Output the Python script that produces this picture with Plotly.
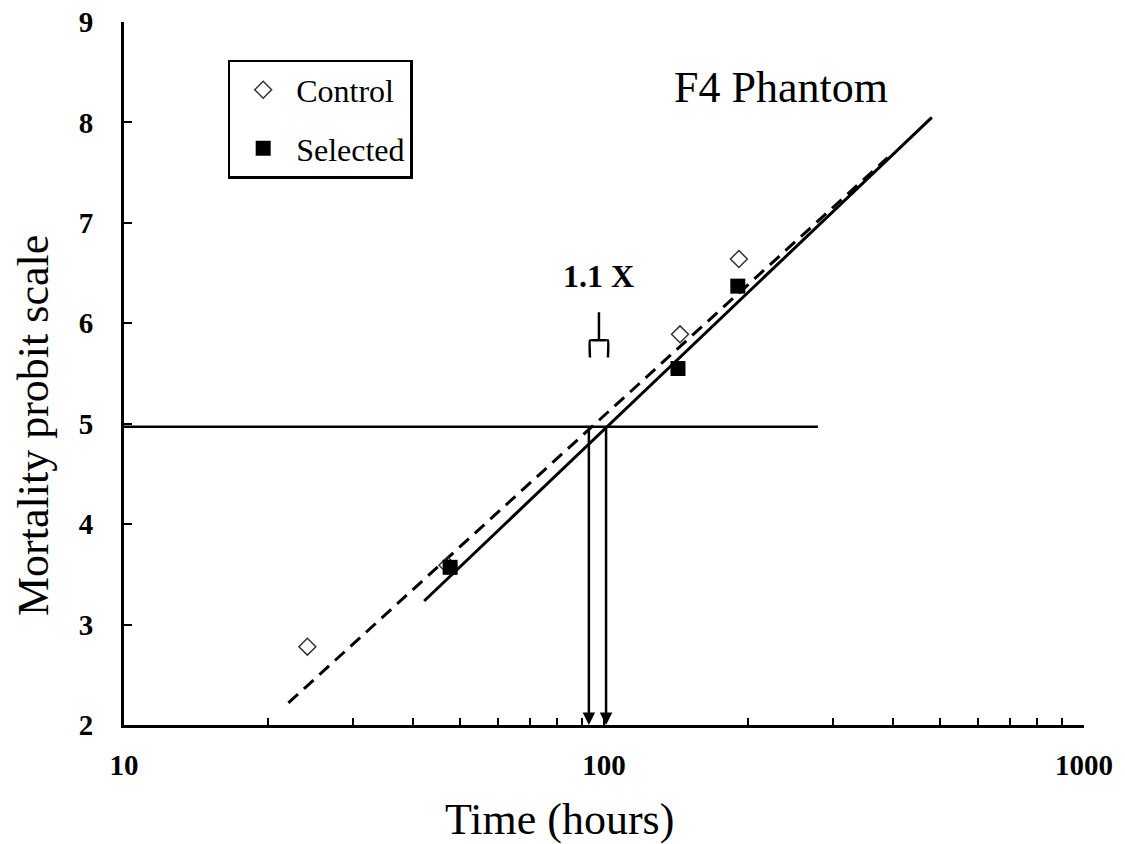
import numpy as np
import plotly.graph_objects as go

# Data
control_t = [24.1, 47.2, 144, 191]
control_p = [2.78, 3.59, 5.89, 6.64]
selected_t = [47.8, 142.6, 190]
selected_p = [3.57, 5.55, 6.37]

control_fit_t = [22.0, 390]
control_fit_p = [2.22, 7.65]
selected_fit_t = [42.2, 482]
selected_fit_p = [3.235, 8.05]

ld50_level = 4.97
ld50_line_t = [10, 279]
ld50_control = 93.0
ld50_selected = 101.0

bracket_t = [93.5, 93.5, 97.6, 101.9, 101.9]
bracket_p = [5.66, 5.83, 5.83, 5.83, 5.66]
stem_t = [97.6, 97.6]
stem_p = [5.83, 6.11]

x_tickvals = [10, 20, 30, 40, 50, 60, 70, 80, 90, 100, 200, 300, 400, 500, 600, 700, 800, 900, 1000]
x_ticktext = ['10', '', '', '', '', '', '', '', '', '100', '', '', '', '', '', '', '', '', '1000']
y_tickvals = [2, 3, 4, 5, 6, 7, 8, 9]

serif = "Liberation Serif"

fig = go.Figure()

fig.add_trace(go.Scatter(x=ld50_line_t, y=[ld50_level, ld50_level], mode='lines',
                         line=dict(color='black', width=2.5), showlegend=False, hoverinfo='skip'))
fig.add_trace(go.Scatter(x=control_fit_t, y=control_fit_p, mode='lines',
                         line=dict(color='black', width=3, dash='13px,8px'), showlegend=False))
fig.add_trace(go.Scatter(x=selected_fit_t, y=selected_fit_p, mode='lines',
                         line=dict(color='black', width=3), showlegend=False))
fig.add_trace(go.Scatter(x=bracket_t, y=bracket_p, mode='lines',
                         line=dict(color='black', width=2.5, shape='spline', smoothing=0.3), showlegend=False))
fig.add_trace(go.Scatter(x=stem_t, y=stem_p, mode='lines',
                         line=dict(color='black', width=2.5), showlegend=False))

fig.add_trace(go.Scatter(x=control_t, y=control_p, mode='markers', name='Control',
                         legendgroup='c',
                         marker=dict(symbol='diamond-open', size=13, color='#333333',
                                     line=dict(width=1.5, color='#333333'))))
fig.add_trace(go.Scatter(x=selected_t, y=selected_p, mode='markers', name='Selected',
                         legendgroup='s',
                         marker=dict(symbol='square', size=15, color='black')))

for t in [ld50_control, ld50_selected]:
    fig.add_annotation(x=np.log10(t), y=2.0, ax=np.log10(t), ay=ld50_level,
                       xref='x', yref='y', axref='x', ayref='y',
                       showarrow=True, arrowhead=2, arrowsize=1, arrowwidth=2.5,
                       arrowcolor='black', text='')

fig.add_annotation(x=np.log10(97.6), y=6.47, xref='x', yref='y', text='<b>1.1 X</b>',
                   showarrow=False, font=dict(family=serif, size=32, color='black'))
fig.add_annotation(x=np.log10(234), y=8.35, xref='x', yref='y', text='F4 Phantom',
                   showarrow=False, font=dict(family=serif, size=44, color='black'),
                   xanchor='center')

# axis titles (placed as in the original, off-centre)
fig.add_annotation(x=0.454, y=-0.135, xref='paper', yref='paper', text='Time (hours)',
                   showarrow=False, xanchor='center', yanchor='middle',
                   font=dict(family=serif, size=44, color='black'))
fig.add_annotation(x=-0.0948, y=0.4267, xref='paper', yref='paper', text='Mortality probit scale',
                   showarrow=False, xanchor='center', yanchor='middle', textangle=-90,
                   font=dict(family=serif, size=44, color='black'))

fig.update_xaxes(type='log', range=[1, 3], tickvals=x_tickvals, ticktext=x_ticktext,
                 ticks='inside', ticklen=7, tickwidth=2, tickcolor='black',
                 showline=True, linecolor='black', linewidth=3, showgrid=False, zeroline=False,
                 tickfont=dict(family=serif, size=29, color='black', weight='bold'),
                 ticklabelstandoff=12, ticklabeloverflow='allow', automargin=False)
fig.update_yaxes(range=[2, 9], tickvals=y_tickvals,
                 ticks='inside', ticklen=8, tickwidth=2, tickcolor='black',
                 showline=True, linecolor='black', linewidth=3, showgrid=False, zeroline=False,
                 tickfont=dict(family=serif, size=29, color='black', weight='bold'),
                 ticklabelstandoff=22, ticklabeloverflow='allow', automargin=False)

fig.update_layout(
    width=1125, height=844,
    margin=dict(l=124, r=41, t=22, b=119, autoexpand=False),
    plot_bgcolor='white', paper_bgcolor='white',
    legend=dict(x=0.108, y=0.946, xanchor='left', yanchor='top',
                bordercolor='black', borderwidth=2.5, bgcolor='white',
                font=dict(family=serif, size=32, color='black'),
                traceorder='grouped', tracegroupgap=14, itemwidth=56),
)

fig.write_html("out.html", config={'displayModeBar': False},
               post_script="document.body.style.margin='0';")
